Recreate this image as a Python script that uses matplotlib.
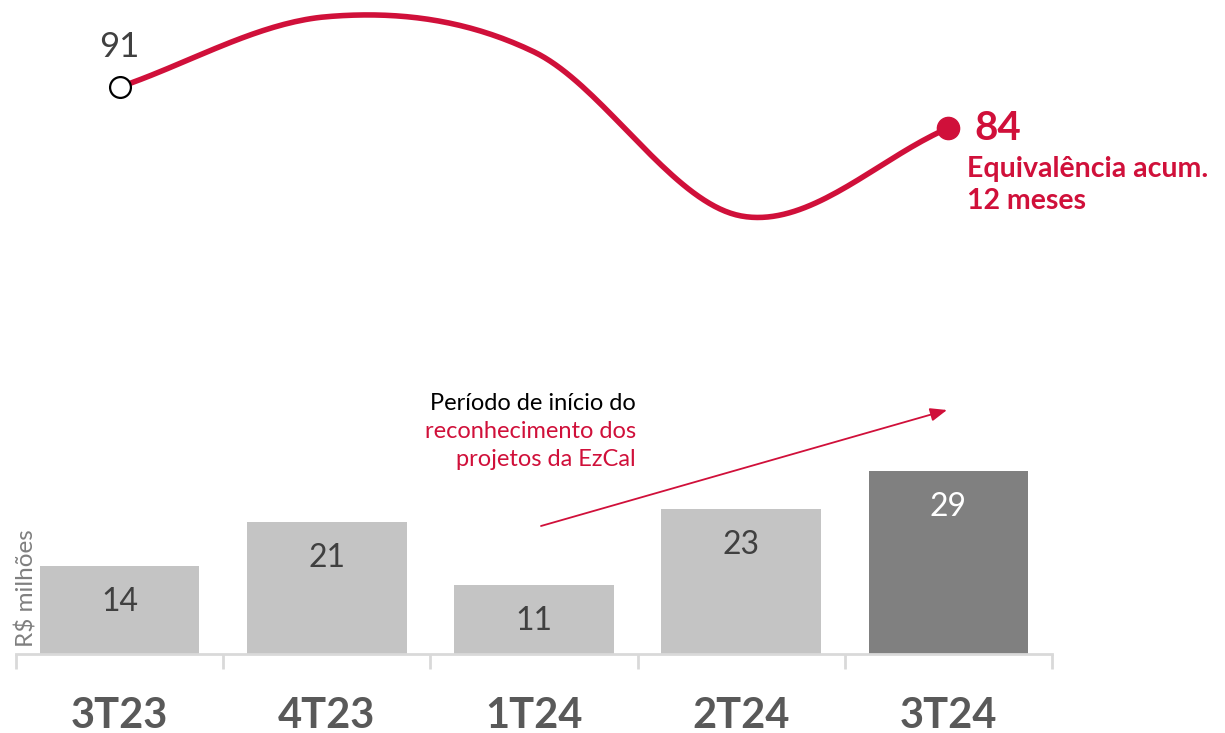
import numpy as np
import matplotlib.pyplot as plt

quarters = ['3T23', '4T23', '1T24', '2T24', '3T24']
quarterly = [14, 21, 11, 23, 29]
# equity income accumulated over 12 months (only endpoints are labelled)
accum_12m = [91, 103, 97, 69, 84]

RED = '#D0103A'
LIGHT = '#C4C4C4'
DARK = '#808080'
TXT = '#404040'
AXIS = '#D9D9D9'

plt.rcParams['font.family'] = ['Lato', 'DejaVu Sans']


def catmull_rom(xs, ys, n=40):
    # smooth line through the points, like a "smoothed line" in a spreadsheet chart
    px = np.concatenate([[2 * xs[0] - xs[1]], xs, [2 * xs[-1] - xs[-2]]])
    py = np.concatenate([[2 * ys[0] - ys[1]], ys, [2 * ys[-1] - ys[-2]]])
    out_x, out_y = [], []
    for i in range(1, len(px) - 2):
        t = np.linspace(0, 1, n)
        for p, out in ((px, out_x), (py, out_y)):
            p0, p1, p2, p3 = p[i - 1], p[i], p[i + 1], p[i + 2]
            out.extend(0.5 * (2 * p1 + (-p0 + p2) * t + (2 * p0 - 5 * p1 + 4 * p2 - p3) * t ** 2
                              + (-p0 + 3 * p1 - 3 * p2 + p3) * t ** 3))
    return np.array(out_x), np.array(out_y)


W, H = 1225, 733
fig = plt.figure(figsize=(W / 100, H / 100), dpi=100)

x = np.arange(len(quarters))
left = 16 / W
width = 1036 / W

# ---- bars
ax = fig.add_axes([left, (H - 654) / H, width, 252 / H])
colors = [LIGHT] * 4 + [DARK]
ax.bar(x, quarterly, width=0.77, color=colors)
ax.set_xlim(-0.5, len(quarters) - 0.5)
ax.set_ylim(0, 40)
for xi, v, c in zip(x, quarterly, colors):
    ax.text(xi, v - 5.7, str(v), ha='center', va='center', fontsize=23,
            color='white' if c == DARK else TXT)

for s in ['top', 'right', 'left']:
    ax.spines[s].set_visible(False)
ax.spines['bottom'].set_color(AXIS)
ax.spines['bottom'].set_linewidth(2)
ax.set_yticks([])
ax.set_xticks(x)
ax.set_xticklabels(quarters, fontsize=30, fontweight='bold', color='#595959')
ax.tick_params(axis='x', which='major', length=0, pad=31)
ax.set_xticks(np.arange(-0.5, len(quarters)), minor=True)
ax.tick_params(axis='x', which='minor', length=11, width=2, color=AXIS)

fig.text(27 / W, (H - 588) / H, 'R$ milhões', rotation=90,
         ha='center', va='center', fontsize=17.5, color='#7F7F7F')

# annotation
fig.text(636 / W, (H - 403) / H, 'Período de início do', ha='right', va='center',
         fontsize=17, color='black')
fig.text(636 / W, (H - 431) / H, 'reconhecimento dos', ha='right', va='center',
         fontsize=17, color=RED)
fig.text(636 / W, (H - 459) / H, 'projetos da EzCal', ha='right', va='center',
         fontsize=17, color=RED)
ax.annotate('', xy=(947 / W, (H - 410) / H), xytext=(541 / W, (H - 526) / H),
            xycoords='figure fraction', textcoords='figure fraction',
            arrowprops=dict(arrowstyle='-|>,head_length=1.0,head_width=0.4',
                            color=RED, lw=1.3, shrinkA=0, shrinkB=0))

# ---- 12 month accumulated line
ax2 = fig.add_axes([left, (H - 240) / H, width, 240 / H])
ax2.set_xlim(-0.5, len(quarters) - 0.5)
ax2.set_ylim(64.9, 105.85)
ax2.axis('off')
sx, sy = catmull_rom(x.astype(float), np.array(accum_12m, dtype=float))
ax2.plot(sx, sy, color=RED, lw=4, solid_capstyle='round', clip_on=False)
ax2.plot(x[0], accum_12m[0], 'o', ms=15, mfc='white', mec='black', mew=1.6, clip_on=False)
ax2.plot(x[-1], accum_12m[-1], 'o', ms=16, color=RED, clip_on=False)
ax2.annotate(str(accum_12m[0]), (x[0], accum_12m[0]), xytext=(0, 24),
             textcoords='offset pixels', ha='center', va='bottom', fontsize=25, color=TXT)
ax2.annotate(str(accum_12m[-1]), (x[-1], accum_12m[-1]), xytext=(26, 0),
             textcoords='offset pixels', ha='left', va='center', fontsize=29,
             fontweight='bold', color=RED)
ax2.annotate('Equivalência acum.\n12 meses', (x[-1], accum_12m[-1]), xytext=(19, -28),
             textcoords='offset pixels', ha='left', va='top', fontsize=20.5,
             fontweight='bold', color=RED, linespacing=1.3)

fig.savefig('out.png', dpi=100)
